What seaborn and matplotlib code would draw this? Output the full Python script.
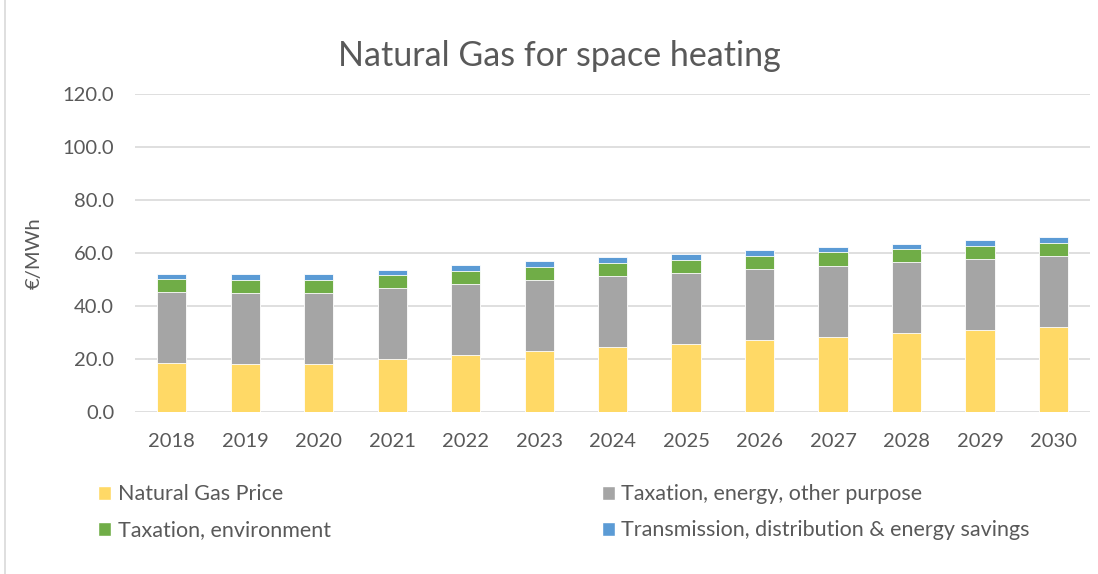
import numpy as np
import pandas as pd
import matplotlib
matplotlib.use("Agg")
import matplotlib.pyplot as plt
import seaborn as sns
from matplotlib.patches import Patch
from matplotlib.ticker import FormatStrFormatter

# Data (EUR/MWh)
years = [2018, 2019, 2020, 2021, 2022, 2023, 2024, 2025, 2026, 2027, 2028, 2029, 2030]
gas_price = [18.4, 18.2, 18.2, 19.9, 21.4, 23.0, 24.5, 25.8, 27.2, 28.4, 29.7, 30.9, 32.1]
tax_energy = [26.9, 26.8, 26.8, 27.0, 26.9, 26.9, 26.8, 26.8, 26.8, 26.9, 26.8, 26.7, 26.9]
tax_env = [4.8, 4.9, 4.9, 4.8, 4.9, 4.8, 4.9, 4.9, 5.0, 5.0, 4.9, 5.0, 4.8]
transmission = [2.1, 2.3, 2.2, 2.0, 2.2, 2.2, 2.2, 2.2, 2.0, 2.0, 2.1, 2.2, 2.1]

series = ["Natural Gas Price", "Taxation, energy, other purpose",
          "Taxation, environment", "Transmission, distribution & energy savings"]
colors = ["#FFD966", "#A5A5A5", "#70AD47", "#5B9BD5"]

sns.set_theme(style="white")
plt.rcParams['font.family'] = ['Lato', 'DejaVu Sans']
text_col = "#595959"

df = pd.DataFrame({
    "year": [str(y) for y in years],
    series[0]: gas_price,
    series[1]: tax_energy,
    series[2]: tax_env,
    series[3]: transmission,
})
# cumulative tops for the stacked look
cum = df[series].cumsum(axis=1)

fig = plt.figure(figsize=(10.98, 5.74), dpi=100)
ax = fig.add_axes([0.123, 0.282, 0.870, 0.554])

# draw tallest first so the lower segments sit on top
for name, col in reversed(list(zip(series, colors))):
    sns.barplot(x=df["year"], y=cum[name], color=col, width=0.4,
                saturation=1, edgecolor="white", linewidth=0.6, ax=ax, zorder=3)

ax.set_ylim(0, 120)
ax.set_xlim(-0.5, len(years) - 0.5)
ax.set_yticks(np.arange(0, 121, 20))
ax.yaxis.set_major_formatter(FormatStrFormatter("%.1f"))
ax.grid(axis="y", color="#D9D9D9", linewidth=1.2, zorder=0)
ax.set_axisbelow(True)
for s in ax.spines.values():
    s.set_visible(False)
ax.tick_params(axis="both", length=0, labelsize=14.5, colors=text_col)
ax.tick_params(axis="x", pad=15)
ax.tick_params(axis="y", pad=15)
ax.set_xlabel("")
ax.set_ylabel("€/MWh", fontsize=14.5, color=text_col, labelpad=14)

fig.suptitle("Natural Gas for space heating", fontsize=24.5, color=text_col,
             x=0.509, y=0.93)

handles = [Patch(facecolor=c, label=n) for n, c in zip(series, colors)]
order = [0, 2, 1, 3]
fig.legend([handles[i] for i in order], [series[i] for i in order],
           ncol=2, loc="upper left", bbox_to_anchor=(0.072, 0.19),
           frameon=False, fontsize=15.5, labelcolor=text_col,
           handlelength=0.6, handleheight=0.6, handletextpad=0.3,
           columnspacing=12.6, labelspacing=0.75)

# left edge of the chart frame
fig.add_artist(plt.Line2D([0.005, 0.005], [0, 1], color="#D9D9D9", linewidth=1.2,
                          transform=fig.transFigure))

fig.savefig("out.png", dpi=100)
